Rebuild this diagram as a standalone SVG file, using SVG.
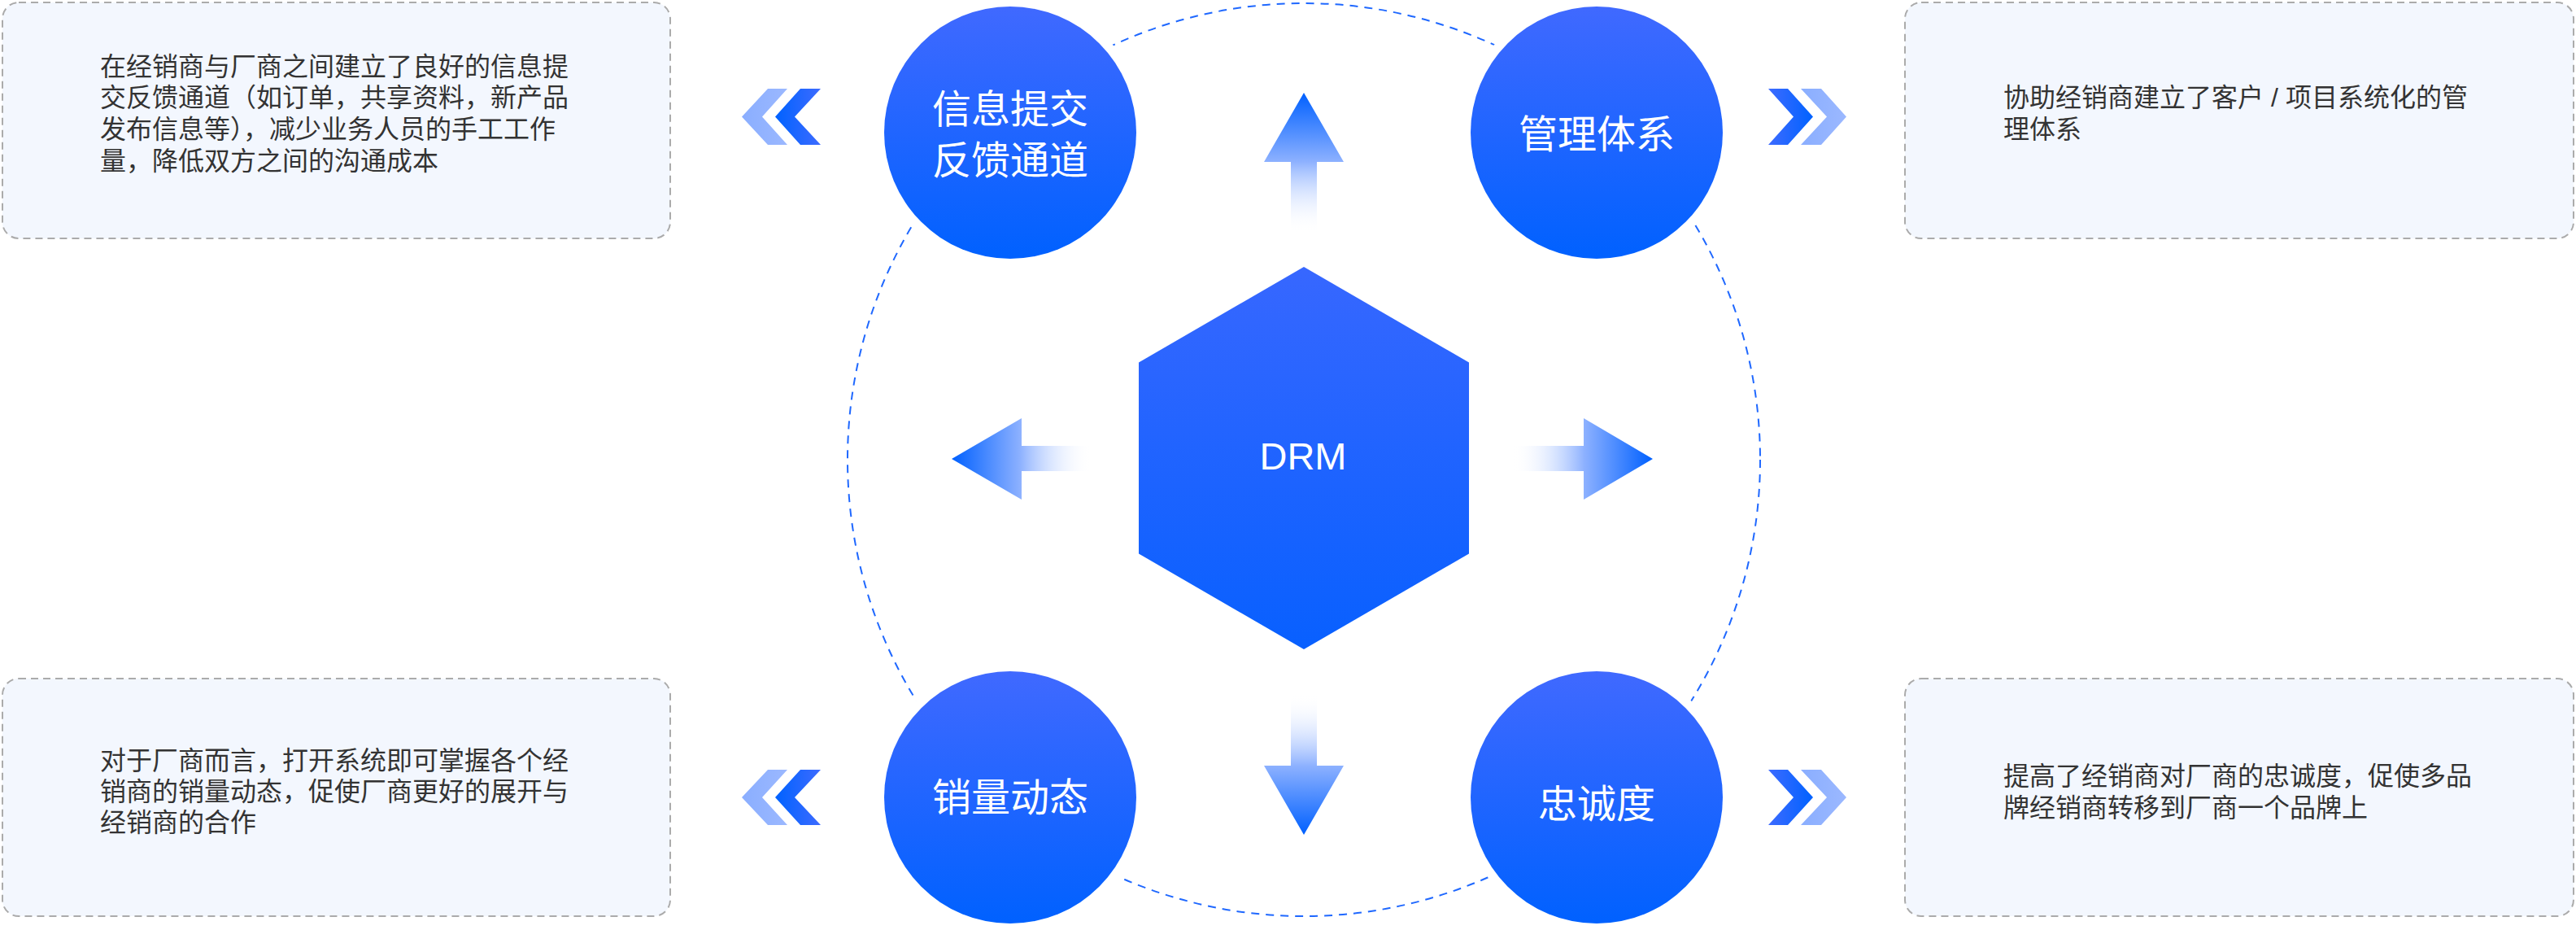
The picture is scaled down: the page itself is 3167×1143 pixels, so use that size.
<svg xmlns="http://www.w3.org/2000/svg" width="3167" height="1143" viewBox="0 0 3167 1143">
<style>
.box{fill:#f3f7fe;stroke:#ababab;stroke-width:2;stroke-dasharray:9 6}
.desc{font-family:"Liberation Sans","Noto Sans CJK SC",sans-serif;font-size:32px;fill:#333333}
.ctext{font-family:"Liberation Sans","Noto Sans CJK SC",sans-serif;font-size:48px;fill:#ffffff;text-anchor:middle}
.halo{fill:#ffffff}
.node{fill:url(#gCircle)}
</style>
<defs>
<linearGradient id="gCircle" x1="0" y1="0" x2="0" y2="1">
<stop offset="0" stop-color="#4069ff"/>
<stop offset="1" stop-color="#0061ff"/>
</linearGradient>
<linearGradient id="gHex" x1="0" y1="0" x2="0" y2="1">
<stop offset="0" stop-color="#3767ff"/>
<stop offset="1" stop-color="#0860ff"/>
</linearGradient>
<linearGradient id="gDarkL" x1="0" y1="0" x2="1" y2="0">
<stop offset="0" stop-color="#0062ff"/>
<stop offset="1" stop-color="#3d6bff"/>
</linearGradient>
<linearGradient id="gDarkR" x1="1" y1="0" x2="0" y2="0">
<stop offset="0" stop-color="#0062ff"/>
<stop offset="1" stop-color="#3d6bff"/>
</linearGradient>
<linearGradient id="gLight" x1="0" y1="0" x2="1" y2="0">
<stop offset="0" stop-color="#8aaeff"/>
<stop offset="1" stop-color="#9bb8ff"/>
</linearGradient>
<linearGradient id="gUp" gradientUnits="userSpaceOnUse" x1="0" y1="114" x2="0" y2="287">
<stop offset="0" stop-color="#0060ff"/>
<stop offset="0.49" stop-color="#8db1ff"/>
<stop offset="1" stop-color="#ffffff" stop-opacity="0"/>
</linearGradient>
<linearGradient id="gDown" gradientUnits="userSpaceOnUse" x1="0" y1="1026" x2="0" y2="853">
<stop offset="0" stop-color="#0060ff"/>
<stop offset="0.49" stop-color="#8db1ff"/>
<stop offset="1" stop-color="#ffffff" stop-opacity="0"/>
</linearGradient>
<linearGradient id="gLeft" gradientUnits="userSpaceOnUse" x1="1170" y1="0" x2="1342" y2="0">
<stop offset="0" stop-color="#0060ff"/>
<stop offset="0.49" stop-color="#8db1ff"/>
<stop offset="1" stop-color="#ffffff" stop-opacity="0"/>
</linearGradient>
<linearGradient id="gRight" gradientUnits="userSpaceOnUse" x1="2032" y1="0" x2="1860" y2="0">
<stop offset="0" stop-color="#0060ff"/>
<stop offset="0.49" stop-color="#8db1ff"/>
<stop offset="1" stop-color="#ffffff" stop-opacity="0"/>
</linearGradient>
</defs>
<rect width="3167" height="1143" fill="#ffffff"/>

<g id="connectors">
<circle cx="1603" cy="565" r="561" fill="none" stroke="#1f68ff" stroke-width="2" stroke-dasharray="10 8"/>
<polygon points="1603,114 1652,199 1619,199 1619,287 1587,287 1587,199 1554,199" fill="url(#gUp)"/>
<polygon points="1603,1026 1652,941 1619,941 1619,853 1587,853 1587,941 1554,941" fill="url(#gDown)"/>
<polygon points="1170,564 1256,514 1256,548 1342,548 1342,579 1256,579 1256,614" fill="url(#gLeft)"/>
<polygon points="2032,564 1947,514 1947,548 1860,548 1860,579 1947,579 1947,614" fill="url(#gRight)"/>
<g id="chevrons-tl">
<polygon points="944,109 912,143.5 944,178 968,178 937,143.5 968,109" fill="url(#gLight)"/>
<polygon points="984,109 953,143.5 984,178 1009,178 977,143.5 1009,109" fill="url(#gDarkL)"/>
</g>
<g id="chevrons-bl">
<polygon points="944,946 912,980 944,1014 968,1014 937,980 968,946" fill="url(#gLight)"/>
<polygon points="984,946 953,980 984,1014 1009,1014 977,980 1009,946" fill="url(#gDarkL)"/>
</g>
<g id="chevrons-tr">
<polygon points="2174,109 2198,109 2229,143.5 2198,178 2174,178 2205,143.5" fill="url(#gDarkR)"/>
<polygon points="2214,109 2239,109 2270,143.5 2239,178 2214,178 2246,143.5" fill="url(#gLight)"/>
</g>
<g id="chevrons-br">
<polygon points="2174,946 2198,946 2229,980 2198,1014 2174,1014 2205,980" fill="url(#gDarkR)"/>
<polygon points="2214,946 2239,946 2270,980 2239,1014 2214,1014 2246,980" fill="url(#gLight)"/>
</g>
</g>

<g id="node-drm">
<polygon points="1603,328 1806,445.5 1806,680.5 1603,798 1400,680.5 1400,445.5" fill="url(#gHex)"/>
<text x="1602" y="577" font-family="'Liberation Sans',Arial,sans-serif" font-size="47" fill="#ffffff" text-anchor="middle">DRM</text>
</g>

<g id="node-feedback">
<circle class="halo" cx="1242" cy="163" r="166"/>
<circle class="node" cx="1242" cy="163" r="155"/>
<text class="ctext" x="1242" y="151">信息提交</text>
<text class="ctext" x="1242" y="214">反馈通道</text>
</g>
<g id="node-management">
<circle class="halo" cx="1963" cy="163" r="166"/>
<circle class="node" cx="1963" cy="163" r="155"/>
<text class="ctext" x="1963" y="182">管理体系</text>
</g>
<g id="node-sales">
<circle class="halo" cx="1242" cy="980" r="166"/>
<circle class="node" cx="1242" cy="980" r="155"/>
<text class="ctext" x="1242" y="997">销量动态</text>
</g>
<g id="node-loyalty">
<circle class="halo" cx="1963" cy="980" r="166"/>
<circle class="node" cx="1963" cy="980" r="155"/>
<text class="ctext" x="1963" y="1005">忠诚度</text>
</g>

<g id="box-tl">
<rect class="box" x="3" y="3" width="821" height="290" rx="20"/>
<text class="desc" x="123" y="93">在经销商与厂商之间建立了良好的信息提</text>
<text class="desc" x="123" y="131">交反馈通道（如订单，共享资料，新产品</text>
<text class="desc" x="123" y="170">发布信息等），减少业务人员的手工工作</text>
<text class="desc" x="123" y="209">量，降低双方之间的沟通成本</text>
</g>
<g id="box-tr">
<rect class="box" x="2342" y="3" width="822" height="290" rx="20"/>
<text class="desc" x="2463" y="131">协助经销商建立了客户<tspan dx="9">/</tspan><tspan dx="9">项目系统化的管</tspan></text>
<text class="desc" x="2463" y="170">理体系</text>
</g>
<g id="box-bl">
<rect class="box" x="3" y="834" width="821" height="292" rx="20"/>
<text class="desc" x="123" y="946">对于厂商而言，打开系统即可掌握各个经</text>
<text class="desc" x="123" y="984">销商的销量动态，促使厂商更好的展开与</text>
<text class="desc" x="123" y="1022">经销商的合作</text>
</g>
<g id="box-br">
<rect class="box" x="2342" y="834" width="822" height="292" rx="20"/>
<text class="desc" x="2463" y="965">提高了经销商对厂商的忠诚度，促使多品</text>
<text class="desc" x="2463" y="1004">牌经销商转移到厂商一个品牌上</text>
</g>
</svg>
